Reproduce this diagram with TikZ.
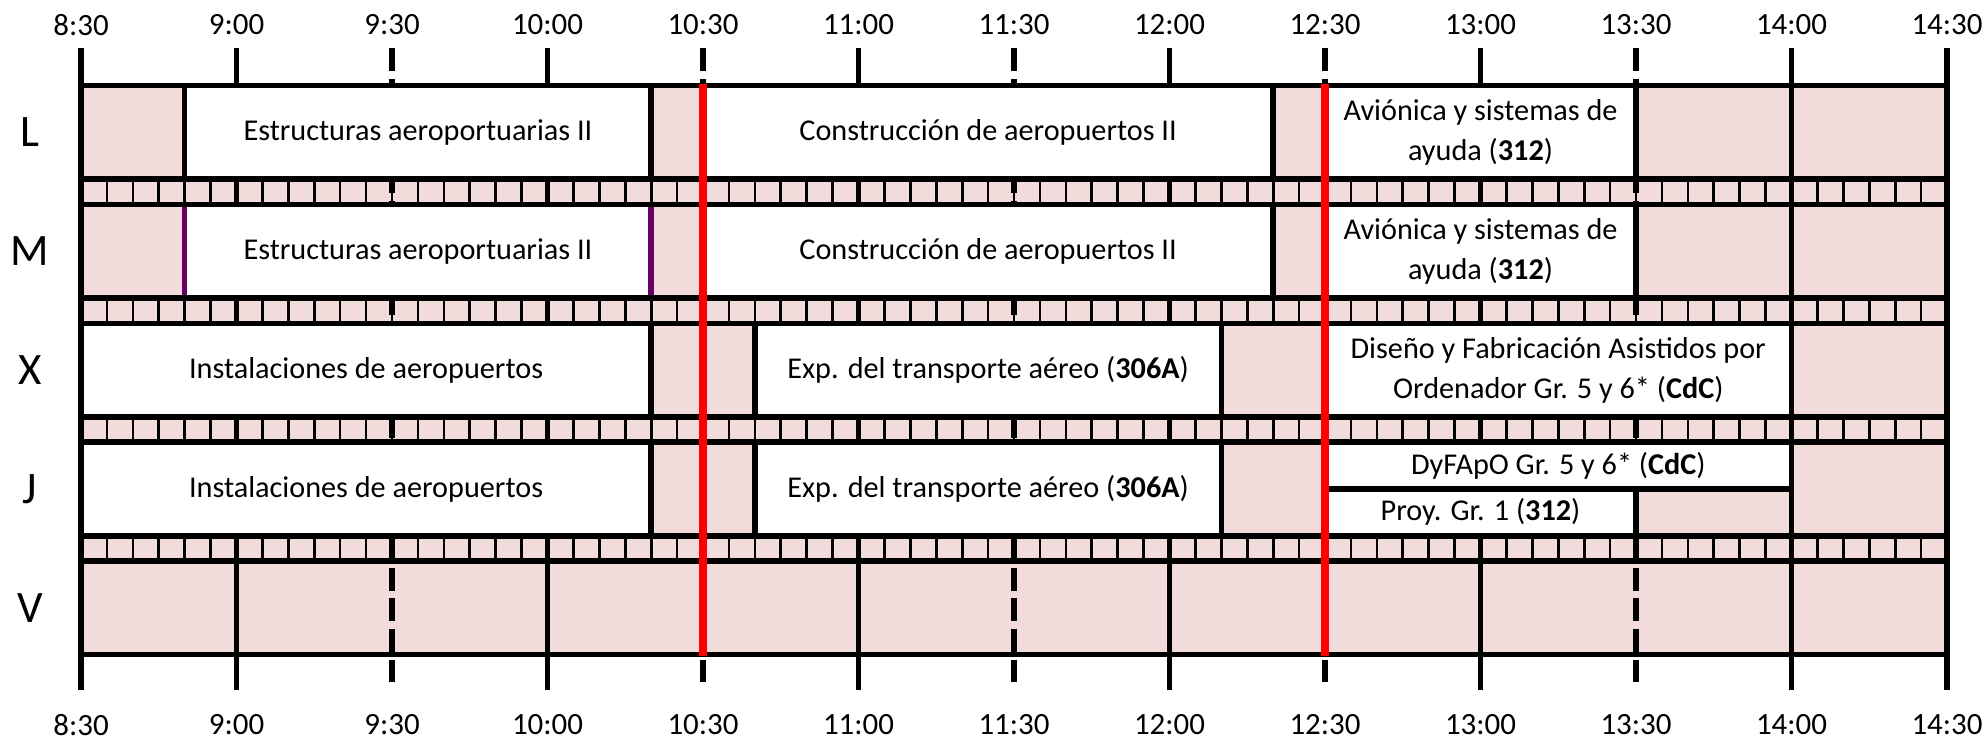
\documentclass[tikz,border=0pt]{standalone}
\usepackage{fontspec}
\setmainfont{Carlito}
\definecolor{rosa}{HTML}{F2DCDB}
\definecolor{morado}{HTML}{660066}
\tikzset{
  linea/.style={line width=1.6pt},
  fina/.style={line width=0.75pt},
  media/.style={line width=1.6pt, dash pattern=on 6.5pt off 2.2pt},
  clase/.style={fill=white, draw=black, line width=1.6pt},
  texto/.style={align=center, font=\fontsize{8.6}{11.4}\selectfont, inner sep=0pt},
  hora/.style={font=\fontsize{8.8}{10}\selectfont},
  dia/.style={font=\fontsize{12.8}{14}\selectfont},
}
\begin{document}
\begin{tikzpicture}[x=0.051833cm, y=-0.01cm]
    \useasboundingbox (-15.63,0) rectangle (367.33,741);

    % Fondo
    \fill[rosa] (0,85.5) rectangle (360,655);

    % Horas y medias horas
    \foreach \m in {0,30,90,150,210,270,330,360}
        \draw[linea] (\m,48) -- (\m,690);
    \foreach \m in {60,120,180,240,300}
        \draw[media] (\m,48) -- (\m,690);

    % Cada 5 minutos en las franjas
    \foreach \f in {179,298,417,536}{
        \foreach \m in {5,10,...,355}
            \draw[fina] (\m,\f) -- (\m,\f+25.5);
    }

    % Lunes y martes
    \foreach \y/\d in {85.5/L,204.5/M}{
        \draw[clase] (20,\y) rectangle (110,\y+93.5);
        \node[texto] (est\d) at (65,\y+46.75) {Estructuras aeroportuarias II};
        \draw[clase] (120,\y) rectangle (230,\y+93.5);
        \node[texto] (con\d) at (175,\y+46.75) {Construcción de aeropuertos II};
        \draw[clase] (240,\y) rectangle (300,\y+93.5);
        \node[texto] (avi\d) at (270,\y+46.75) {Aviónica y sistemas de\\ayuda (\textbf{312})};
    }
    \draw[linea, morado] (20,204.5) -- (20,298) (110,204.5) -- (110,298);

    % Miercoles y jueves
    \foreach \y/\d in {323.5/X,442.5/J}{
        \draw[clase] (0,\y) rectangle (110,\y+93.5);
        \node[texto] (ins\d) at (55,\y+46.75) {Instalaciones de aeropuertos};
        \draw[clase] (130,\y) rectangle (220,\y+93.5);
        \node[texto] (exp\d) at (175,\y+46.75) {Exp. del transporte aéreo (\textbf{306A})};
    }
    \draw[clase] (240,323.5) rectangle (330,417);
    \node[texto] (dis) at (285,370.25) {Diseño y Fabricación Asistidos por\\Ordenador Gr. 5 y 6* (\textbf{CdC})};
    \draw[clase] (240,442.5) rectangle (330,489.25);
    \node[texto] (dyf) at (285,465.9) {DyFApO Gr. 5 y 6* (\textbf{CdC})};
    \draw[clase] (240,489.25) rectangle (300,536);
    \node[texto] (proy) at (270,512.6) {Proy. Gr. 1 (\textbf{312})};

    % Lineas de los dias
    \foreach \h in {85.5,179,204.5,298,323.5,417,442.5,536,561.5,655}
        \draw[linea] (0,\h) -- (360,\h);

    % Marcas rojas
    \draw[red, line width=2.3pt] (120,84) -- (120,656.5);
    \draw[red, line width=2.3pt] (240,84) -- (240,656.5);

    % Etiquetas
    \foreach \m/\t in {0/8:30,30/9:00,60/9:30,90/10:00,120/10:30,150/11:00,180/11:30,210/12:00,240/12:30,270/13:00,300/13:30,330/14:00,360/14:30}{
        \node[hora] (arriba\m) at (\m,25) {\t};
        \node[hora] (abajo\m) at (\m,725) {\t};
    }
    \foreach \y/\d in {132.25/L,251.25/M,370.25/X,489.25/J,608.25/V}
        \node[dia] (dia\d) at (-9.84,\y) {\d};

\end{tikzpicture}
\end{document}
